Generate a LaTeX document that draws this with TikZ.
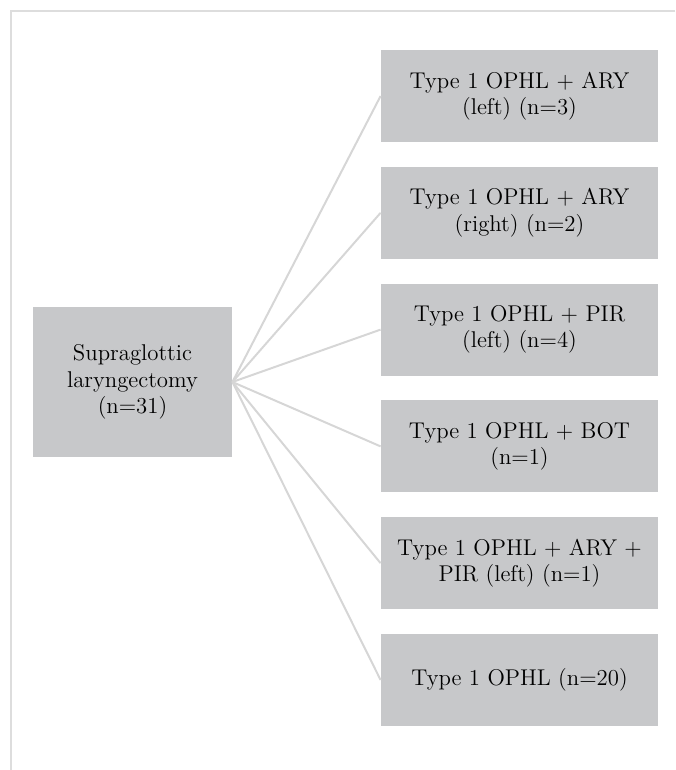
\documentclass[tikz,border=0pt]{standalone}
\usepackage{tikz}

\definecolor{boxgray}{RGB}{199,200,202}
\definecolor{linkgray}{RGB}{214,214,214}
\definecolor{framegray}{RGB}{221,221,221}

\begin{document}
\begin{tikzpicture}[x=0.5pt,y=-0.5pt,
	box/.style={fill=boxgray,inner sep=0pt,align=center,font=\fontsize{11.4}{13.2}\selectfont},
	leaf/.style={box,minimum width=138.5pt,minimum height=46pt},
	link/.style={draw=linkgray,line width=1pt}]
	\useasboundingbox (0,0) rectangle (675,770);
	\draw[framegray,line width=1pt] (675,11) -- (11,11) -- (11,770);

	\draw (132.5,382) node (root) [box,minimum width=99.5pt,minimum height=75pt] {Supraglottic\\laryngectomy\\(n=31)};
	\draw (519.5,96) node (aryl) [leaf] {Type 1 OPHL + ARY\\(left) (n=3)};
	\draw (519.5,212.8) node (aryr) [leaf] {Type 1 OPHL + ARY\\(right) (n=2)};
	\draw (519.5,329.6) node (pirl) [leaf] {Type 1 OPHL + PIR\\(left) (n=4)};
	\draw (519.5,446.4) node (bot) [leaf] {Type 1 OPHL + BOT\\(n=1)};
	\draw (519.5,563.2) node (arypir) [leaf] {Type 1 OPHL + ARY +\\PIR (left) (n=1)};
	\draw (519.5,680) node (ophl) [leaf] {Type 1 OPHL (n=20)};

	\path[link] (root.east) edge (aryl.west);
	\path[link] (root.east) edge (aryr.west);
	\path[link] (root.east) edge (pirl.west);
	\path[link] (root.east) edge (bot.west);
	\path[link] (root.east) edge (arypir.west);
	\path[link] (root.east) edge (ophl.west);
\end{tikzpicture}
\end{document}
